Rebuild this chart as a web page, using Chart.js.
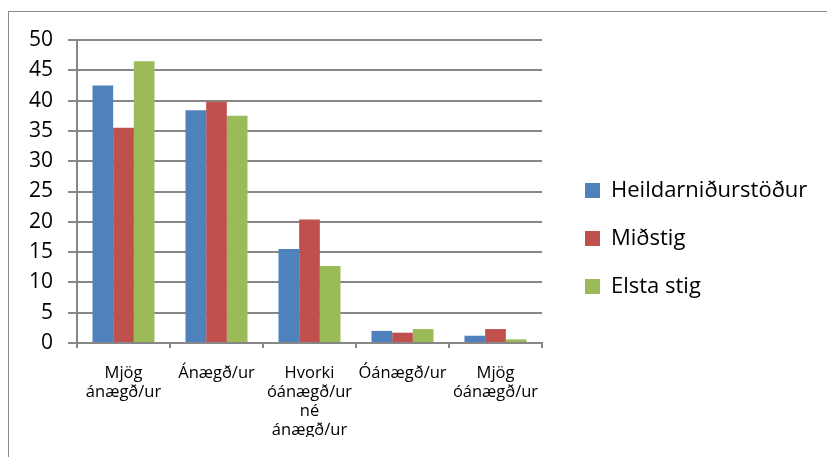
<!DOCTYPE html>
<html lang="is">
<head>
  <meta charset="UTF-8">
  <title>Ánægja nemenda</title>
  <script src="https://cdn.jsdelivr.net/npm/chart.js"></script>
  <style>
    body {
      margin: 0;
      background: #fff;
    }
    .wrap {
      position: relative;
      width: 827px;
      height: 457px;
      overflow: hidden;
    }
    .wrap canvas {
      position: absolute;
      left: 0;
      top: 0;
    }
    /* outer chart frame, right and bottom edges fall outside the picture */
    .frame {
      position: absolute;
      left: 8px;
      top: 11px;
      width: 900px;
      height: 500px;
      border: 1px solid #8a8a8a;
      pointer-events: none;
    }
  </style>
</head>
<body>
  <div class="wrap">
    <canvas id="chart" width="827" height="457"></canvas>
    <div class="frame"></div>
  </div>

  <script>
    const categories = [
      ['Mjög', 'ánægð/ur'],
      ['Ánægð/ur'],
      ['Hvorki', 'óánægð/ur', 'né', 'ánægð/ur'],
      ['Óánægð/ur'],
      ['Mjög', 'óánægð/ur']
    ];
    const heildar = [42.5, 38.4, 15.5, 2.0, 1.2];
    const midstig = [35.5, 39.8, 20.4, 1.7, 2.3];
    const elstaStig = [46.5, 37.5, 12.7, 2.3, 0.6];
    const yMin = 0;
    const yMax = 50;
    const yStep = 5;

    const gridColor = '#878787';
    const fontFamily = "'Open Sans', 'Liberation Sans', sans-serif";

    new Chart(document.getElementById('chart'), {
      type: 'bar',
      data: {
        labels: categories,
        datasets: [
          { label: 'Heildarniðurstöður', data: heildar, backgroundColor: '#4F81BD' },
          { label: 'Miðstig', data: midstig, backgroundColor: '#C0504D' },
          { label: 'Elsta stig', data: elstaStig, backgroundColor: '#9BBB59' }
        ]
      },
      options: {
        responsive: false,
        animation: false,
        categoryPercentage: 0.667,
        barPercentage: 1,
        layout: {
          padding: { top: 40, bottom: 20, left: 0, right: 14 }
        },
        plugins: {
          tooltip: { enabled: false },
          legend: {
            position: 'right',
            maxWidth: 254,
            labels: {
              boxWidth: 15,
              boxHeight: 15,
              padding: 26,
              color: '#000',
              font: { family: fontFamily, size: 22 }
            }
          }
        },
        scales: {
          x: {
            grid: {
              drawOnChartArea: false,
              drawTicks: true,
              tickLength: 5,
              color: gridColor,
              lineWidth: 2
            },
            border: { display: true, color: gridColor, width: 2 },
            ticks: {
              color: '#000',
              padding: 16,
              maxRotation: 0,
              autoSkip: false,
              font: { family: fontFamily, size: 16.5, lineHeight: '19px' }
            },
            afterFit(scale) { scale.height = 94; }
          },
          y: {
            min: yMin,
            max: yMax,
            grid: {
              color: gridColor,
              lineWidth: 2,
              drawTicks: true,
              tickLength: 9
            },
            border: { display: true, color: gridColor, width: 2 },
            ticks: {
              stepSize: yStep,
              color: '#000',
              padding: 15,
              font: { family: fontFamily, size: 21 }
            },
            afterFit(scale) { scale.width = 77; }
          },
          // empty axis, only keeps a gap between the plot and the legend
          gap: {
            position: 'right',
            grid: { display: false },
            border: { display: false },
            ticks: { display: false },
            afterFit(scale) { scale.width = 17; }
          }
        }
      }
    });
  </script>
</body>
</html>
